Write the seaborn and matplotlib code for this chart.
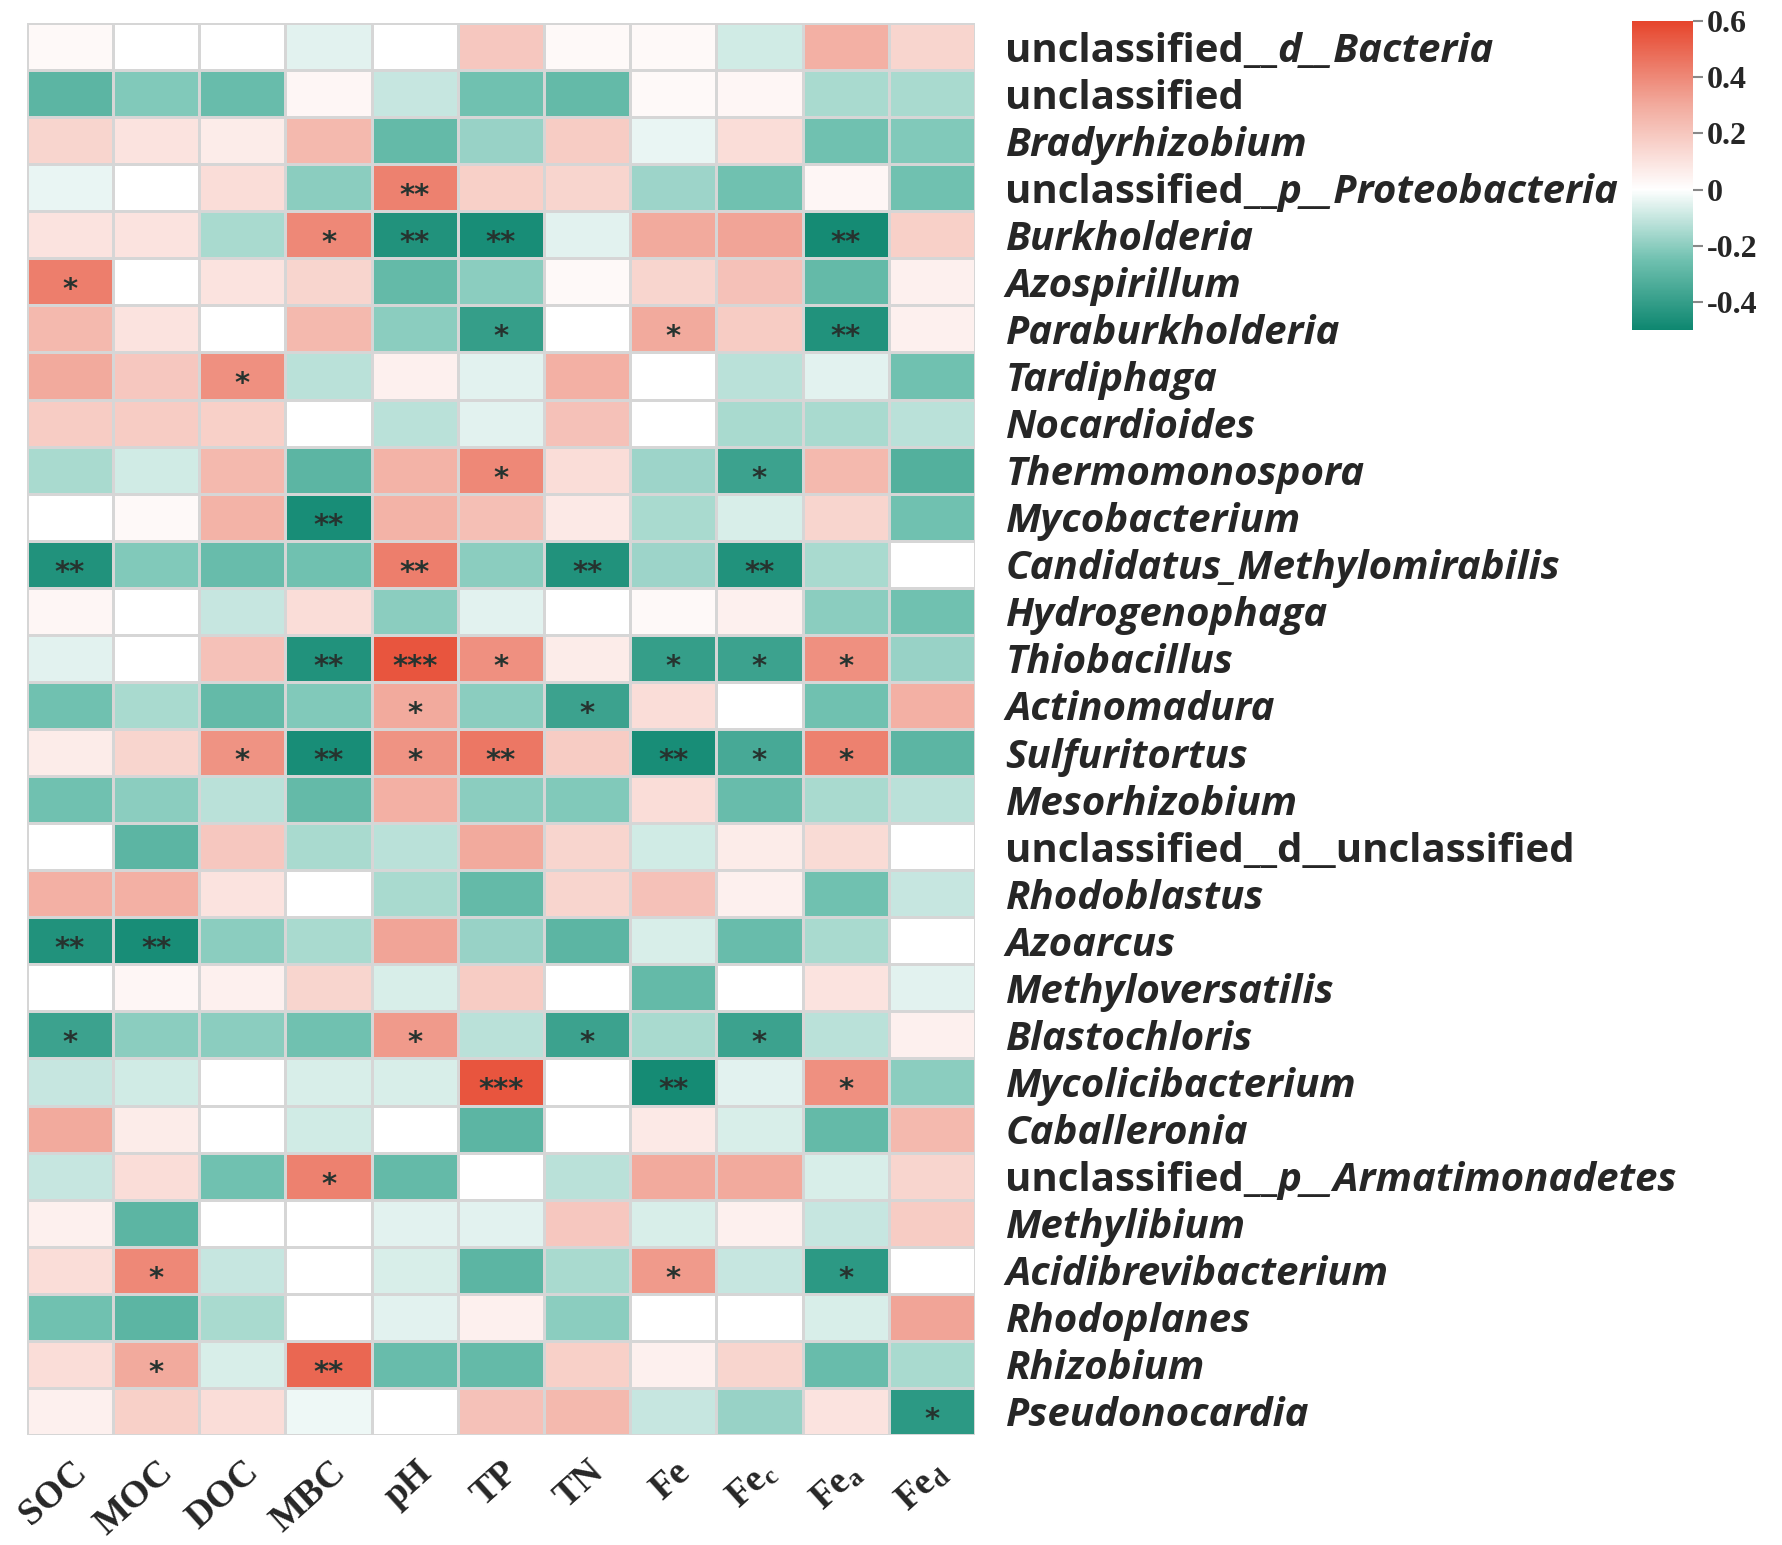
import matplotlib
matplotlib.use("Agg")
import matplotlib.pyplot as plt
import matplotlib.transforms as mtransforms
import seaborn as sns
import pandas as pd
import numpy as np
from matplotlib.colors import LinearSegmentedColormap

genera = [
    "unclassified__d__Bacteria", "unclassified", "Bradyrhizobium",
    "unclassified__p__Proteobacteria", "Burkholderia", "Azospirillum",
    "Paraburkholderia", "Tardiphaga", "Nocardioides", "Thermomonospora",
    "Mycobacterium", "Candidatus_Methylomirabilis", "Hydrogenophaga",
    "Thiobacillus", "Actinomadura", "Sulfuritortus", "Mesorhizobium",
    "unclassified__d__unclassified", "Rhodoblastus", "Azoarcus",
    "Methyloversatilis", "Blastochloris", "Mycolicibacterium", "Caballeronia",
    "unclassified__p__Armatimonadetes", "Methylibium", "Acidibrevibacterium",
    "Rhodoplanes", "Rhizobium", "Pseudonocardia",
]

variables = ["SOC", "MOC", "DOC", "MBC", "pH", "TP", "TN", "Fe",
             r"$\mathregular{Fe_c}$", r"$\mathregular{Fe_a}$", r"$\mathregular{Fe_d}$"]

# correlation coefficients, one row per genus (SOC ... Fed)
r_values = [
    [0.02, 0.00, 0.00, -0.05, 0.00, 0.20, 0.02, 0.02, -0.08, 0.28, 0.15],
    [-0.30, -0.22, -0.27, 0.03, -0.10, -0.25, -0.28, 0.02, 0.03, -0.15, -0.15],
    [0.15, 0.10, 0.07, 0.25, -0.28, -0.18, 0.18, -0.04, 0.12, -0.25, -0.22],
    [-0.04, 0.00, 0.12, -0.20, 0.42, 0.17, 0.15, -0.17, -0.25, 0.03, -0.25],
    [0.10, 0.10, -0.15, 0.40, -0.45, -0.47, -0.05, 0.30, 0.32, -0.48, 0.17],
    [0.43, 0.00, 0.10, 0.15, -0.28, -0.20, 0.02, 0.15, 0.22, -0.28, 0.05],
    [0.25, 0.10, 0.00, 0.25, -0.20, -0.40, 0.00, 0.30, 0.18, -0.45, 0.05],
    [0.30, 0.20, 0.38, -0.12, 0.05, -0.05, 0.28, 0.00, -0.12, -0.05, -0.25],
    [0.18, 0.18, 0.17, 0.00, -0.12, -0.05, 0.22, 0.00, -0.15, -0.15, -0.12],
    [-0.15, -0.08, 0.25, -0.30, 0.27, 0.40, 0.12, -0.17, -0.38, 0.25, -0.32],
    [0.00, 0.02, 0.27, -0.47, 0.27, 0.23, 0.08, -0.15, -0.07, 0.15, -0.25],
    [-0.45, -0.22, -0.27, -0.25, 0.43, -0.20, -0.45, -0.17, -0.45, -0.15, 0.00],
    [0.03, 0.00, -0.10, 0.12, -0.20, -0.05, 0.00, 0.02, 0.05, -0.20, -0.25],
    [-0.05, 0.00, 0.22, -0.45, 0.55, 0.38, 0.07, -0.40, -0.38, 0.38, -0.18],
    [-0.25, -0.15, -0.28, -0.22, 0.30, -0.20, -0.38, 0.12, 0.00, -0.25, 0.28],
    [0.07, 0.15, 0.37, -0.47, 0.37, 0.45, 0.18, -0.47, -0.35, 0.42, -0.30],
    [-0.25, -0.20, -0.12, -0.28, 0.28, -0.20, -0.22, 0.12, -0.27, -0.15, -0.12],
    [0.00, -0.30, 0.20, -0.15, -0.12, 0.30, 0.15, -0.08, 0.07, 0.13, 0.00],
    [0.28, 0.28, 0.10, 0.00, -0.15, -0.28, 0.15, 0.22, 0.05, -0.25, -0.10],
    [-0.45, -0.47, -0.20, -0.15, 0.32, -0.18, -0.30, -0.07, -0.27, -0.15, 0.00],
    [0.00, 0.03, 0.05, 0.15, -0.07, 0.18, 0.00, -0.28, 0.00, 0.10, -0.05],
    [-0.38, -0.20, -0.20, -0.25, 0.35, -0.12, -0.38, -0.15, -0.38, -0.12, 0.05],
    [-0.10, -0.08, 0.00, -0.07, -0.07, 0.55, 0.00, -0.48, -0.05, 0.38, -0.20],
    [0.30, 0.07, 0.00, -0.08, 0.00, -0.30, 0.00, 0.08, -0.07, -0.28, 0.25],
    [-0.10, 0.12, -0.25, 0.42, -0.28, 0.00, -0.12, 0.30, 0.30, -0.07, 0.15],
    [0.05, -0.30, 0.00, 0.00, -0.05, -0.05, 0.20, -0.07, 0.05, -0.10, 0.18],
    [0.12, 0.40, -0.10, 0.00, -0.07, -0.30, -0.15, 0.35, -0.10, -0.42, 0.00],
    [-0.25, -0.30, -0.15, 0.00, -0.05, 0.05, -0.20, 0.00, 0.00, -0.07, 0.32],
    [0.12, 0.30, -0.07, 0.50, -0.27, -0.28, 0.17, 0.05, 0.15, -0.27, -0.15],
    [0.05, 0.17, 0.12, -0.03, 0.00, 0.22, 0.25, -0.10, -0.18, 0.10, -0.42],
]

# number of significance stars per cell
star_counts = [
    "00000000000", "00000000000", "00000000000", "00002000000",
    "00012200020", "10000000000", "00000101020", "00100000000",
    "00000000000", "00000100100", "00020000000", "20002020200",
    "00000000000", "00023101110", "00001010000", "00121202110",
    "00000000000", "00000000000", "00000000000", "22000000000",
    "00000000000", "10001010100", "00000302010", "00000000000",
    "00010000000", "00000000000", "01000001010", "00000000000",
    "01020000000", "00000000001",
]

cbar_ticks = [-0.4, -0.2, 0, 0.2, 0.4, 0.6]
cbar_labels = ["-0.4", "-0.2", "0", "0.2", "0.4", "0.6"]

sns.set_style("white")
plt.rcParams["font.family"] = ["Open Sans", "DejaVu Sans"]

df = pd.DataFrame(r_values, index=genera, columns=variables)
stars = pd.DataFrame([["*" * int(c) for c in row] for row in star_counts],
                     index=genera, columns=variables)

vmin, vmax = -0.5, 0.6
mid = (0 - vmin) / (vmax - vmin)
cmap = LinearSegmentedColormap.from_list(
    "teal_red",
    [(0.0, "#0e8770"), (mid * 0.5, "#70c1b0"), (mid, "#ffffff"),
     (mid + (1 - mid) * 0.5, "#f2ab9e"), (1.0, "#e6452c")])

fig = plt.figure(figsize=(17.83, 15.45), dpi=100)
ax = fig.add_axes([0.0151, 0.0712, 0.5317, 0.9139])
cax = fig.add_axes([0.9153, 0.7864, 0.0342, 0.2])

sns.heatmap(df, ax=ax, cbar_ax=cax, cmap=cmap, vmin=vmin, vmax=vmax,
            linewidths=2, linecolor="#d6d6d6",
            annot=stars, fmt="",
            annot_kws={"fontsize": 21, "fontweight": "bold",
                       "color": "#26332f", "family": "DejaVu Sans"})

# push the asterisks down to the visual centre of the cells
for t in ax.texts:
    x, y = t.get_position()
    t.set_position((x, y + 0.18))

# row labels on the right
ax.yaxis.tick_right()
ax.tick_params(axis="y", length=0, pad=22)
ax.tick_params(axis="x", length=0, pad=22)
ax.set_xlabel("")
ax.set_ylabel("")

plain = {"unclassified", "unclassified__d__unclassified"}
prefix_rows = {}
ylabels = []
for g in genera:
    if g.startswith("unclassified__") and g not in plain:
        ylabels.append("unclassified__")
        prefix_rows[len(ylabels) - 1] = g[len("unclassified__"):]
    else:
        ylabels.append(g)
ax.set_yticklabels(ylabels, rotation=0, ha="left", fontsize=29,
                   fontweight="bold")
for i, lbl in enumerate(ax.get_yticklabels()):
    if genera[i] not in plain and i not in prefix_rows:
        lbl.set_fontstyle("italic")

ax.set_xticklabels(variables, rotation=42, ha="right", va="center",
                   rotation_mode="anchor", fontsize=27, fontweight="bold",
                   family="Liberation Serif")
shift = mtransforms.ScaledTranslation(12 / 100, -2 / 100, fig.dpi_scale_trans)
for lbl in ax.get_xticklabels():
    lbl.set_transform(lbl.get_transform() + shift)

fig.canvas.draw()
for i, rest in prefix_rows.items():
    lbl = ax.get_yticklabels()[i]
    ax.annotate(rest, xy=(1, 0), xycoords=lbl, ha="left", va="bottom",
                fontsize=29, fontweight="bold", fontstyle="italic",
                annotation_clip=False)

# colorbar styling
cbar = ax.collections[0].colorbar
cbar.outline.set_visible(False)
cbar.set_ticks(cbar_ticks)
cbar.set_ticklabels(cbar_labels)
cax.tick_params(length=7, width=1.5, color="#888888", pad=3)
for t in cax.get_yticklabels():
    t.set_fontfamily("Liberation Serif")
    t.set_fontweight("bold")
    t.set_fontsize(23)

fig.savefig("out.png", dpi=100, facecolor="white")
